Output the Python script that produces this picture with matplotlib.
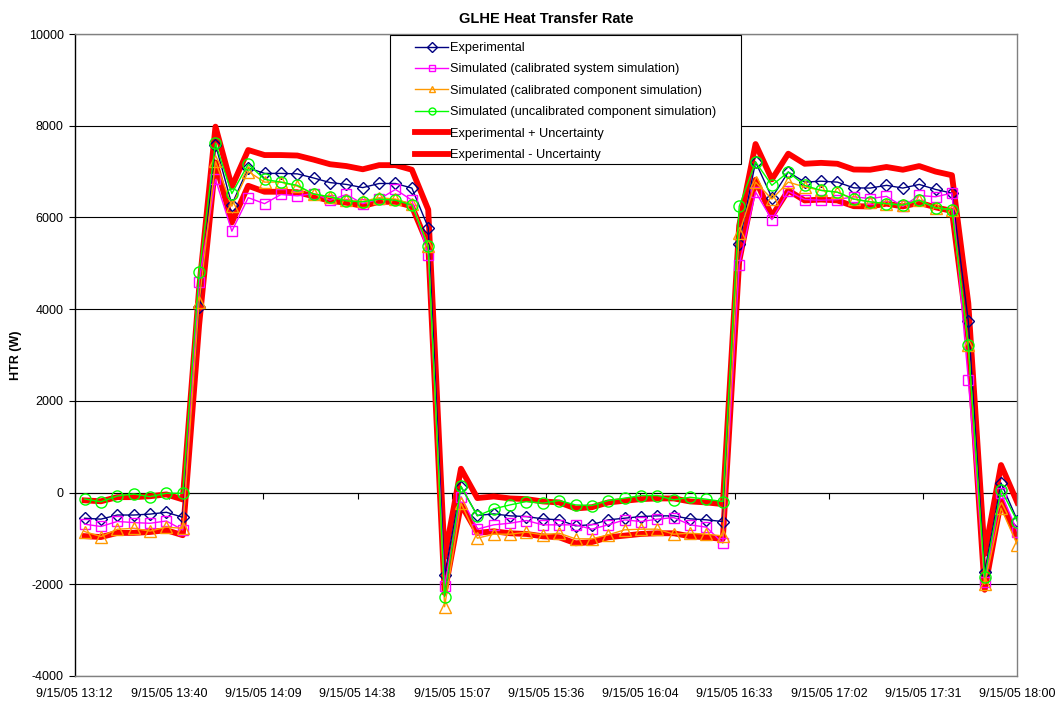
import matplotlib
matplotlib.use("Agg")
import matplotlib.pyplot as plt
from matplotlib.patches import Rectangle
import pandas as pd
import matplotlib.dates as mdates

# Sample times (5-minute logging interval)
times = pd.date_range("2005-09-15 13:15", "2005-09-15 18:00", freq="5min")

experimental = [
    -560, -580, -490, -490, -470, -430, -540,
    4050, 7590, 6280, 7080, 6960, 6960, 6950, 6860, 6760, 6720, 6650, 6740, 6740, 6640, 5780,
    -1800, 130, -500, -465, -508, -523, -574, -595, -726, -700, -595, -559, -523, -508, -508, -574, -595, -632,
    5430, 7210, 6430, 6990, 6770, 6790, 6770, 6645, 6640, 6700, 6640, 6720, 6610, 6530, 3740, -1730, 210, -610,
]
sim_system = [
    -690, -740, -630, -655, -670, -620, -815,
    4600, 6830, 5700, 6430, 6300, 6500, 6470, 6520, 6375, 6500, 6300, 6400, 6610, 6375, 5180,
    -2040, -90, -798, -704, -668, -610, -704, -704, -704, -798, -704, -595, -632, -581, -545, -704, -755, -1103,
    4960, 6555, 5950, 6570, 6390, 6375, 6390, 6450, 6410, 6460, 6240, 6480, 6450, 6530, 2460, -1960, -10, -850,
]
sim_component = [
    -850, -960, -800, -780, -840, -755, -780,
    4150, 7220, 6245, 7000, 6770, 6770, 6680, 6510, 6450, 6370, 6350, 6430, 6400, 6290, 5370,
    -2490, -230, -995, -908, -908, -864, -922, -886, -1009, -1009, -922, -813, -798, -798, -908, -886, -908, -944,
    5650, 6770, 6400, 6770, 6665, 6590, 6550, 6400, 6340, 6300, 6270, 6375, 6210, 6170, 3210, -2000, -340, -1140,
]
sim_uncalibrated = [
    -140, -200, -75, -30, -90, -15, -15,
    4800, 7620, 6520, 7160, 6830, 6770, 6700, 6510, 6450, 6360, 6340, 6400, 6375, 6270, 5370,
    -2270, 140, -510, -356, -269, -196, -232, -174, -269, -283, -174, -123, -65, -65, -160, -102, -145, -196,
    6240, 7210, 6700, 6990, 6700, 6590, 6550, 6400, 6340, 6300, 6270, 6375, 6210, 6170, 3210, -1840, 65, -632,
]
uncertainty = [
    390, 390, 390, 390, 390, 390, 390,
    400, 390, 390, 390, 400, 400, 400, 400, 400, 400, 400, 400, 400, 400, 390,
    390, 390, 380, 380, 380, 380, 380, 380, 380, 380, 380, 380, 380, 380, 380, 380, 380, 380,
    390, 390, 400, 400, 400, 400, 400, 400, 400, 400, 400, 400, 390, 390, 390, 390, 390, 390,
]

x_tick_labels = [
    "9/15/05 13:12", "9/15/05 13:40", "9/15/05 14:09", "9/15/05 14:38",
    "9/15/05 15:07", "9/15/05 15:36", "9/15/05 16:04", "9/15/05 16:33",
    "9/15/05 17:02", "9/15/05 17:31", "9/15/05 18:00",
]
y_ticks = [-4000, -2000, 0, 2000, 4000, 6000, 8000, 10000]

upper = [e + u for e, u in zip(experimental, uncertainty)]
lower = [e - u for e, u in zip(experimental, uncertainty)]

x = mdates.date2num(times)
x0 = mdates.date2num(pd.Timestamp("2005-09-15 13:12"))
x1 = mdates.date2num(pd.Timestamp("2005-09-15 18:00"))
tick_pos = [x0 + 0.02 * k for k in range(len(x_tick_labels))]

FONT = ["Liberation Sans", "DejaVu Sans"]

fig = plt.figure(figsize=(10.63, 7.04), dpi=100)
ax = fig.add_axes([0.0703, 0.0398, 0.8868, 0.9119])

ax.set_xlim(x0, x1)
ax.set_ylim(-4000, 10000)

for yv in y_ticks:
    ax.axhline(yv, color="black", lw=0.8, zorder=1)

ax.plot(x, upper, color="#FF0000", lw=4.2, zorder=2,
        label="Experimental + Uncertainty")
ax.plot(x, lower, color="#FF0000", lw=4.2, zorder=2,
        label="Experimental - Uncertainty")

ax.plot(x, experimental, color="#000080", lw=1.0, marker="D", ms=6, mfc="none",
        mew=1.0, zorder=3, label="Experimental")
ax.plot(x, sim_system, color="#FF00FF", lw=1.0, marker="s", ms=7.5, mfc="none",
        mew=1.0, zorder=4, label="Simulated (calibrated system simulation)")
ax.plot(x, sim_component, color="#FF9900", lw=1.0, marker="^", ms=8, mfc="none",
        mew=1.0, zorder=5, label="Simulated (calibrated component simulation)")
ax.plot(x, sim_uncalibrated, color="#00FF00", lw=1.0, marker="o", ms=8, mfc="none",
        mew=1.0, zorder=6, label="Simulated (uncalibrated component simulation)")

# Y axis
ax.set_yticks(y_ticks)
ax.set_yticklabels([str(v) for v in y_ticks], fontsize=9, family=FONT)
ax.tick_params(axis="y", direction="out", length=4, width=0.8, pad=4)
ax.set_ylabel("HTR (W)", fontsize=9, fontweight="bold", family=FONT, labelpad=5)

# X labels at the bottom of the plot area, tick marks on the zero line
ax.set_xticks(tick_pos)
ax.set_xticklabels(x_tick_labels, fontsize=9,
                   family=["Liberation Sans Narrow", "Liberation Sans", "DejaVu Sans"])
ax.tick_params(axis="x", length=0, pad=9)
sec = ax.secondary_xaxis(4000 / 14000)
sec.set_xticks(tick_pos)
sec.set_xticklabels([])
sec.tick_params(axis="x", direction="out", length=4, width=0.8, color="black")
sec.spines["bottom"].set_color("black")
sec.spines["bottom"].set_linewidth(0.8)

for side in ("top", "right", "bottom"):
    ax.spines[side].set_color("#808080")
    ax.spines[side].set_linewidth(1.0)
ax.spines["left"].set_color("black")
ax.spines["left"].set_linewidth(1.0)

ax.set_title("GLHE Heat Transfer Rate", fontsize=10.5, fontweight="bold",
             family=FONT, pad=8)

# Legend box with wide side margins
frame = Rectangle((390 / 1063, 1 - 164 / 704), 351 / 1063, 129 / 704,
                  transform=fig.transFigure, facecolor="white", edgecolor="black",
                  lw=0.8, zorder=9, clip_on=False)
ax.add_patch(frame)

handles, labels = ax.get_legend_handles_labels()
order = [2, 3, 4, 5, 0, 1]
leg = ax.legend([handles[i] for i in order], [labels[i] for i in order],
                loc="upper left", bbox_to_anchor=(415 / 1063, 1 - 42 / 704),
                bbox_transform=fig.transFigure,
                prop={"family": FONT, "size": 9.2},
                frameon=False, handlelength=2.6, handletextpad=0.15,
                labelspacing=0.74, borderpad=0.0, borderaxespad=0.0)
leg.set_zorder(10)
for h in leg.legend_handles:
    if h.get_marker() not in (None, "None", ""):
        h.set_markersize(5)

fig.savefig("out.png", dpi=100)
